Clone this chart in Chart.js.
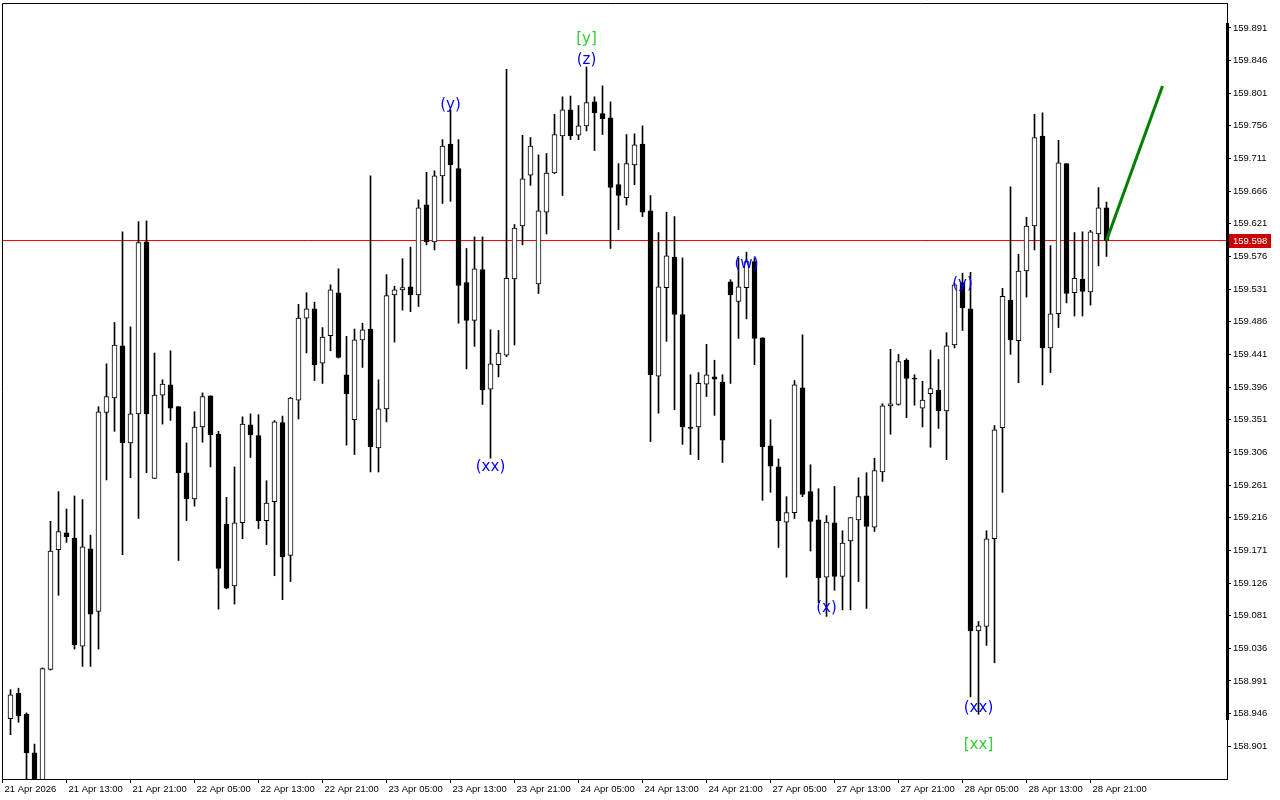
<!DOCTYPE html>
<html>
<head>
<meta charset="utf-8">
<title>USDJPY H1</title>
<script src="https://cdn.jsdelivr.net/npm/chart.js@4.4.1/dist/chart.umd.min.js"></script>
<style>
  html, body { margin: 0; padding: 0; background: #fff; }
  canvas { display: block; }
</style>
</head>
<body>
<canvas id="priceChart" width="1280" height="800"></canvas>
<script>
// Hourly candles, 21 Apr 06:00 .. 28 Apr 23:00 (index 0 = first visible bar)
const opens = [
  158.939, 158.974, 158.945, 158.892, 158.845, 159.007, 159.172, 159.195, 159.188, 159.039,
  159.173, 159.087, 159.361, 159.381, 159.453, 159.319, 159.359, 159.596, 159.270, 159.385,
  159.399, 159.369, 159.278, 159.242, 159.341, 159.384, 159.331, 159.207, 159.122, 159.209,
  159.344, 159.329, 159.212, 159.238, 159.347, 159.164, 159.378, 159.491, 159.504, 159.429,
  159.467, 159.526, 159.413, 159.351, 159.461, 159.476, 159.312, 159.366, 159.523, 159.530,
  159.534, 159.523, 159.647, 159.596, 159.687, 159.731, 159.697, 159.540, 159.488, 159.558,
  159.393, 159.427, 159.440, 159.545, 159.618, 159.688, 159.538, 159.637, 159.691, 159.742,
  159.778, 159.743, 159.756, 159.789, 159.773, 159.767, 159.675, 159.657, 159.702, 159.731,
  159.639, 159.411, 159.533, 159.575, 159.496, 159.340, 159.341, 159.400, 159.410, 159.403,
  159.541, 159.514, 159.533, 159.569, 159.464, 159.315, 159.286, 159.210, 159.223, 159.395,
  159.252, 159.213, 159.134, 159.209, 159.135, 159.184, 159.213, 159.246, 159.203, 159.279,
  159.370, 159.372, 159.433, 159.408, 159.367, 159.387, 159.392, 159.363, 159.454, 159.540,
  159.504, 159.060, 159.066, 159.187, 159.340, 159.516, 159.460, 159.556, 159.618, 159.742,
  159.450, 159.497, 159.704, 159.526, 159.545, 159.527, 159.607, 159.643
];
const highs = [
  158.979, 158.981, 158.947, 158.904, 159.009, 159.211, 159.252, 159.228, 159.246, 159.241,
  159.192, 159.369, 159.428, 159.485, 159.610, 159.479, 159.624, 159.625, 159.443, 159.406,
  159.446, 159.369, 159.319, 159.362, 159.388, 159.384, 159.335, 159.244, 159.286, 159.355,
  159.359, 159.358, 159.267, 159.350, 159.356, 159.382, 159.510, 159.526, 159.513, 159.478,
  159.537, 159.559, 159.466, 159.476, 159.484, 159.687, 159.406, 159.551, 159.535, 159.573,
  159.589, 159.654, 159.692, 159.694, 159.737, 159.778, 159.737, 159.587, 159.603, 159.603,
  159.475, 159.474, 159.834, 159.620, 159.743, 159.740, 159.716, 159.718, 159.772, 159.796,
  159.797, 159.784, 159.837, 159.796, 159.811, 159.789, 159.704, 159.744, 159.745, 159.756,
  159.660, 159.609, 159.637, 159.631, 159.574, 159.413, 159.416, 159.455, 159.433, 159.413,
  159.544, 159.574, 159.582, 159.574, 159.464, 159.351, 159.297, 159.245, 159.405, 159.468,
  159.289, 159.256, 159.219, 159.259, 159.198, 159.216, 159.271, 159.278, 159.298, 159.373,
  159.448, 159.441, 159.435, 159.413, 159.404, 159.447, 159.434, 159.471, 159.539, 159.553,
  159.554, 159.073, 159.198, 159.343, 159.532, 159.672, 159.579, 159.630, 159.772, 159.774,
  159.591, 159.736, 159.704, 159.609, 159.610, 159.612, 159.671, 159.651
];
const lows = [
  158.917, 158.934, 158.840, 158.830, 158.830, 159.006, 159.109, 159.182, 159.035, 159.011,
  159.011, 159.035, 159.268, 159.335, 159.165, 159.271, 159.215, 159.278, 159.270, 159.345,
  159.350, 159.157, 159.212, 159.232, 159.320, 159.286, 159.090, 159.118, 159.097, 159.187,
  159.299, 159.201, 159.179, 159.136, 159.103, 159.128, 159.352, 159.443, 159.405, 159.401,
  159.446, 159.436, 159.316, 159.303, 159.423, 159.279, 159.279, 159.348, 159.458, 159.502,
  159.500, 159.507, 159.592, 159.585, 159.649, 159.652, 159.484, 159.421, 159.452, 159.372,
  159.298, 159.410, 159.438, 159.454, 159.592, 159.674, 159.525, 159.607, 159.690, 159.660,
  159.737, 159.737, 159.749, 159.722, 159.744, 159.587, 159.613, 159.647, 159.675, 159.631,
  159.321, 159.360, 159.459, 159.365, 159.317, 159.303, 159.296, 159.383, 159.357, 159.292,
  159.401, 159.463, 159.490, 159.427, 159.240, 159.251, 159.175, 159.134, 159.215, 159.245,
  159.170, 159.099, 159.080, 159.116, 159.089, 159.089, 159.128, 159.091, 159.197, 159.266,
  159.331, 159.371, 159.354, 159.371, 159.341, 159.313, 159.339, 159.296, 159.450, 159.474,
  158.969, 158.945, 159.040, 159.016, 159.251, 159.441, 159.402, 159.520, 159.585, 159.399,
  159.416, 159.478, 159.512, 159.494, 159.494, 159.509, 159.563, 159.576
];
const closes = [
  158.972, 158.943, 158.892, 158.845, 159.008, 159.170, 159.197, 159.190, 159.041, 159.176,
  159.083, 159.362, 159.383, 159.454, 159.319, 159.359, 159.595, 159.359, 159.385, 159.400,
  159.367, 159.278, 159.242, 159.341, 159.383, 159.330, 159.146, 159.119, 159.209, 159.345,
  159.330, 159.212, 159.236, 159.348, 159.162, 159.381, 159.491, 159.504, 159.427, 159.465,
  159.530, 159.437, 159.387, 159.461, 159.475, 159.314, 159.366, 159.522, 159.530, 159.533,
  159.523, 159.643, 159.596, 159.687, 159.728, 159.702, 159.536, 159.488, 159.559, 159.392,
  159.428, 159.443, 159.546, 159.615, 159.683, 159.728, 159.639, 159.691, 159.744, 159.778,
  159.742, 159.756, 159.788, 159.774, 159.766, 159.671, 159.660, 159.704, 159.730, 159.637,
  159.413, 159.534, 159.577, 159.496, 159.341, 159.339, 159.401, 159.413, 159.407, 159.323,
  159.523, 159.534, 159.569, 159.463, 159.314, 159.287, 159.212, 159.223, 159.399, 159.248,
  159.211, 159.133, 159.210, 159.135, 159.181, 159.216, 159.245, 159.204, 159.281, 159.370,
  159.373, 159.431, 159.408, 159.407, 159.378, 159.394, 159.363, 159.453, 159.537, 159.505,
  159.060, 159.067, 159.187, 159.337, 159.521, 159.461, 159.556, 159.618, 159.740, 159.450,
  159.497, 159.705, 159.525, 159.546, 159.528, 159.610, 159.643, 159.598
];

// time axis labels (bar index of each label)
const timeTickIndex = [-1, 7, 15, 23, 31, 39, 47, 55, 63, 71, 79, 87, 95, 103, 111, 119, 127, 135];
const timeLabels = [
  "21 Apr 2026", "21 Apr 13:00", "21 Apr 21:00", "22 Apr 05:00", "22 Apr 13:00", "22 Apr 21:00",
  "23 Apr 05:00", "23 Apr 13:00", "23 Apr 21:00", "24 Apr 05:00", "24 Apr 13:00", "24 Apr 21:00",
  "27 Apr 05:00", "27 Apr 13:00", "27 Apr 21:00", "28 Apr 05:00", "28 Apr 13:00", "28 Apr 21:00"
];
const priceTicks = [
  158.901, 158.946, 158.991, 159.036, 159.081, 159.126, 159.171, 159.216, 159.261, 159.306,
  159.351, 159.396, 159.441, 159.486, 159.531, 159.576, 159.621, 159.666, 159.711, 159.756,
  159.801, 159.846, 159.891
];

// wave marks
const waveText = ["(y)", "[y]", "(z)", "(xx)", "(w)", "(x)", "(y)", "(xx)", "[xx]"];
const waveIndex = [55, 72, 72, 60, 92, 102, 119, 121, 121];
const wavePrice = [159.788, 159.878, 159.850, 159.288, 159.568, 159.094, 159.540, 158.957, 158.906];

// projection and bid
const projectionIndex = [137, 144];
const projectionPrice = [159.598, 159.811];
const bidPrice = 159.598;

const priceMin = 158.8559;
const priceMax = 159.9253;
const barMin = -1.0625;
const barMax = 152.0625;

const tickFont = { family: "'Liberation Sans', Arial, sans-serif", size: 9.5 };

const wicks = highs.map((h, i) => ({ x: i, y: [lows[i], h] }));
const bodies = opens.map((o, i) => ({ x: i, y: [o, closes[i]] }));
const bodyColors = opens.map((o, i) => (closes[i] > o ? "#ffffff" : "#000000"));

const waveLabelsPlugin = {
  id: "waveLabels",
  afterDatasetsDraw(chart) {
    const { ctx, scales } = chart;
    ctx.save();
    ctx.font = "15px 'DejaVu Sans', sans-serif";
    ctx.textAlign = "center";
    ctx.textBaseline = "middle";
    waveText.forEach((t, i) => {
      ctx.fillStyle = t.startsWith("[") ? "#32cd32" : "#0000ff";
      ctx.fillText(t, scales.x.getPixelForValue(waveIndex[i]), scales.y.getPixelForValue(wavePrice[i]) + 2);
    });
    ctx.restore();
  }
};

const framePlugin = {
  id: "frame",
  afterDraw(chart) {
    const { ctx, chartArea: a, scales } = chart;
    ctx.save();
    ctx.strokeStyle = "#000";
    ctx.lineWidth = 1;
    ctx.beginPath();
    ctx.moveTo(a.left + 0.5, a.bottom);
    ctx.lineTo(a.left + 0.5, a.top + 0.5);
    ctx.lineTo(a.right + 1, a.top + 0.5);
    ctx.stroke();
    ctx.fillStyle = "#000";
    ctx.fillRect(a.right - 1, 23, 3, 697);

    // bid price tag on the price scale
    const by = Math.round(scales.y.getPixelForValue(bidPrice));
    ctx.fillStyle = "#c80000";
    ctx.fillRect(a.right + 2, by - 7, 42, 14);
    ctx.fillStyle = "#fff";
    ctx.font = "9.5px 'Liberation Sans', Arial, sans-serif";
    ctx.textBaseline = "middle";
    ctx.textAlign = "left";
    ctx.fillText(bidPrice.toFixed(3), a.right + 6, by + 0.5);
    ctx.restore();
  }
};

new Chart(document.getElementById("priceChart").getContext("2d"), {
  type: "bar",
  data: {
    datasets: [
      {
        type: "line",
        data: [{ x: -5, y: bidPrice }, { x: 160, y: bidPrice }],
        borderColor: "#ff0000",
        borderWidth: 1,
        pointRadius: 0,
        order: 4
      },
      {
        data: wicks,
        backgroundColor: "#000",
        barThickness: 1,
        grouped: false,
        order: 3
      },
      {
        data: bodies,
        backgroundColor: bodyColors,
        borderColor: "#000",
        borderWidth: 1,
        borderSkipped: false,
        barThickness: 5,
        minBarLength: 1,
        grouped: false,
        order: 2
      },
      {
        type: "line",
        data: projectionIndex.map((x, i) => ({ x, y: projectionPrice[i] })),
        borderColor: "#008000",
        borderWidth: 3,
        pointRadius: 0,
        order: 1
      }
    ]
  },
  options: {
    responsive: false,
    animation: false,
    devicePixelRatio: 1,
    layout: { padding: { left: 2, top: 3, right: 0, bottom: 0 } },
    plugins: {
      legend: { display: false },
      tooltip: { enabled: false }
    },
    scales: {
      x: {
        type: "linear",
        min: barMin,
        max: barMax,
        offset: false,
        afterBuildTicks: (s) => { s.ticks = timeTickIndex.map((v) => ({ value: v })); },
        afterFit: (s) => { s.height = 21; s.paddingLeft = 0; s.paddingRight = 0; },
        ticks: {
          autoSkip: false,
          maxRotation: 0,
          align: "start",
          labelOffset: 2,
          padding: 1,
          color: "#000",
          font: tickFont,
          callback: (v, i) => timeLabels[i]
        },
        grid: { drawOnChartArea: false, offset: false, color: "#000", tickLength: 4 },
        border: { color: "#000" }
      },
      y: {
        position: "right",
        min: priceMin,
        max: priceMax,
        afterBuildTicks: (s) => { s.ticks = priceTicks.map((v) => ({ value: v })); },
        afterFit: (s) => { s.width = 53; s.paddingTop = 0; s.paddingBottom = 0; },
        ticks: {
          padding: 2,
          color: "#000",
          font: tickFont,
          callback: (v) => v.toFixed(3)
        },
        grid: { drawOnChartArea: false, color: "#000", tickLength: 4 },
        border: { color: "#000" }
      }
    }
  },
  plugins: [waveLabelsPlugin, framePlugin]
});
</script>
</body>
</html>
